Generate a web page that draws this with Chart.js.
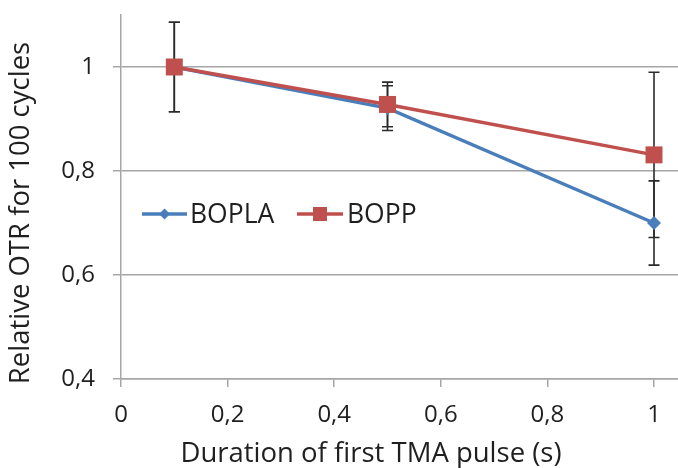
<!DOCTYPE html>
<html>
<head>
<meta charset="utf-8">
<script src="https://cdn.jsdelivr.net/npm/chart.js@4.4.1/dist/chart.umd.min.js"></script>
<style>
  html, body { margin: 0; padding: 0; background: #fff; }
  #wrap { width: 678px; height: 468px; }
</style>
</head>
<body>
<div id="wrap"><canvas id="otrCanvas" width="678" height="468"></canvas></div>
<script>
    // pulse durations (s)
    var xValues = [0.1, 0.5, 1];

    var boplaValues = [1.0, 0.921, 0.700];
    var boplaErrors = [0.086, 0.043, 0.081];

    var boppValues = [1.0, 0.928, 0.831];
    var boppErrors = [0.086, 0.043, 0.159];

    var xTicks = [0, 0.2, 0.4, 0.6, 0.8, 1];
    var yTicks = [0.4, 0.6, 0.8, 1];

    var blue = '#4a7ebb';
    var red = '#c0504d';
    var gridColor = '#a6a6a6';
    var textColor = '#1f1f1f';
    var fontFamily = '"Open Sans", "Noto Sans", sans-serif';

    var toPoints = function (ys) {
        return ys.map(function (y, i) { return { x: xValues[i], y: y }; });
    };

    var commaLabel = function (value) {
        return String(+value.toFixed(1)).replace('.', ',');
    };

    // vertical error bars, drawn under the markers
    var errorBars = {
        id: 'errorBars',
        beforeDatasetsDraw: function (chart) {
            var ctx = chart.ctx;
            var xs = chart.scales.x, ys = chart.scales.y;
            ctx.save();
            ctx.strokeStyle = '#2b2b2b';
            ctx.lineWidth = 1.6;
            chart.data.datasets.forEach(function (ds) {
                ds.data.forEach(function (pt, i) {
                    var e = ds.errors[i];
                    var px = xs.getPixelForValue(pt.x);
                    var top = ys.getPixelForValue(pt.y + e);
                    var bot = ys.getPixelForValue(pt.y - e);
                    ctx.beginPath();
                    ctx.moveTo(px, top); ctx.lineTo(px, bot);
                    ctx.moveTo(px - 5.5, top); ctx.lineTo(px + 5.5, top);
                    ctx.moveTo(px - 5.5, bot); ctx.lineTo(px + 5.5, bot);
                    ctx.stroke();
                });
            });
            ctx.restore();
        }
    };

    // in-plot legend and axis titles
    var decorations = {
        id: 'decorations',
        afterDraw: function (chart) {
            var ctx = chart.ctx;
            ctx.save();
            ctx.fillStyle = textColor;
            ctx.textBaseline = 'middle';

            var items = [
                { ds: chart.data.datasets[1], x0: 142, x1: 187, tx: 190 },
                { ds: chart.data.datasets[0], x0: 297, x1: 343, tx: 347 }
            ];
            var ly = 214;
            items.forEach(function (it) {
                var ds = it.ds, cx = (it.x0 + it.x1) / 2;
                ctx.strokeStyle = ds.borderColor;
                ctx.lineWidth = 3.5;
                ctx.beginPath();
                ctx.moveTo(it.x0, ly); ctx.lineTo(it.x1, ly);
                ctx.stroke();
                ctx.fillStyle = ds.backgroundColor;
                ctx.beginPath();
                if (ds.pointStyle === 'rect') {
                    ctx.rect(cx - 7, ly - 7, 14, 14);
                } else {
                    ctx.moveTo(cx - 5.5, ly); ctx.lineTo(cx, ly - 5.5);
                    ctx.lineTo(cx + 5.5, ly); ctx.lineTo(cx, ly + 5.5);
                    ctx.closePath();
                }
                ctx.fill();
                ctx.fillStyle = textColor;
                ctx.font = '26.5px ' + fontFamily;
                ctx.textAlign = 'left';
                ctx.fillText(ds.label, it.tx, ly + 1);
            });

            ctx.font = '27.5px ' + fontFamily;
            ctx.textAlign = 'center';
            ctx.fillText('Duration of first TMA pulse (s)', 371, 454);

            ctx.translate(21, 213);
            ctx.rotate(-Math.PI / 2);
            ctx.fillText('Relative OTR for 100 cycles', 0, 0);
            ctx.restore();
        }
    };

    var ctx = document.getElementById('otrCanvas');

    var otrChart = new Chart(ctx, {
        type: 'line',
        data: {
            datasets: [
                {
                    label: 'BOPP',
                    data: toPoints(boppValues),
                    errors: boppErrors,
                    borderColor: red,
                    backgroundColor: red,
                    borderWidth: 3.5,
                    pointStyle: 'rect',
                    pointRadius: 12,
                    pointBorderWidth: 0,
                    order: 0
                },
                {
                    label: 'BOPLA',
                    data: toPoints(boplaValues),
                    errors: boplaErrors,
                    borderColor: blue,
                    backgroundColor: blue,
                    borderWidth: 3.5,
                    pointStyle: 'rectRot',
                    pointRadius: 7,
                    pointBorderWidth: 0,
                    order: 1
                }
            ]
        },
        options: {
            responsive: false,
            animation: false,
            events: [],
            layout: {
                autoPadding: false,
                padding: { top: 15, left: 0, right: 0, bottom: 0 }
            },
            plugins: {
                legend: { display: false },
                tooltip: { enabled: false }
            },
            scales: {
                x: {
                    type: 'linear',
                    min: 0,
                    max: 1.045,
                    afterFit: function (scale) {
                        scale.height = 89;
                        scale.paddingLeft = 0;
                        scale.paddingRight = 0;
                    },
                    afterBuildTicks: function (scale) {
                        scale.ticks = xTicks.map(function (v) { return { value: v }; });
                    },
                    border: { display: true, color: gridColor, width: 1.5 },
                    grid: {
                        drawOnChartArea: false,
                        drawTicks: true,
                        tickLength: 8,
                        color: gridColor,
                        lineWidth: 1.5
                    },
                    ticks: {
                        padding: 14,
                        maxRotation: 0,
                        color: textColor,
                        font: { family: fontFamily, size: 24 },
                        callback: commaLabel
                    }
                },
                y: {
                    min: 0.4,
                    max: 1.1,
                    afterFit: function (scale) {
                        scale.width = 121;
                        scale.paddingTop = 0;
                        scale.paddingBottom = 0;
                    },
                    afterBuildTicks: function (scale) {
                        scale.ticks = yTicks.map(function (v) { return { value: v }; });
                    },
                    border: { display: true, color: gridColor, width: 1.5 },
                    grid: {
                        drawOnChartArea: true,
                        drawTicks: true,
                        tickLength: 8,
                        color: gridColor,
                        lineWidth: 1.5
                    },
                    ticks: {
                        padding: 18,
                        color: textColor,
                        font: { family: fontFamily, size: 24 },
                        callback: commaLabel
                    }
                }
            }
        },
        plugins: [errorBars, decorations]
    });
</script>
</body>
</html>
